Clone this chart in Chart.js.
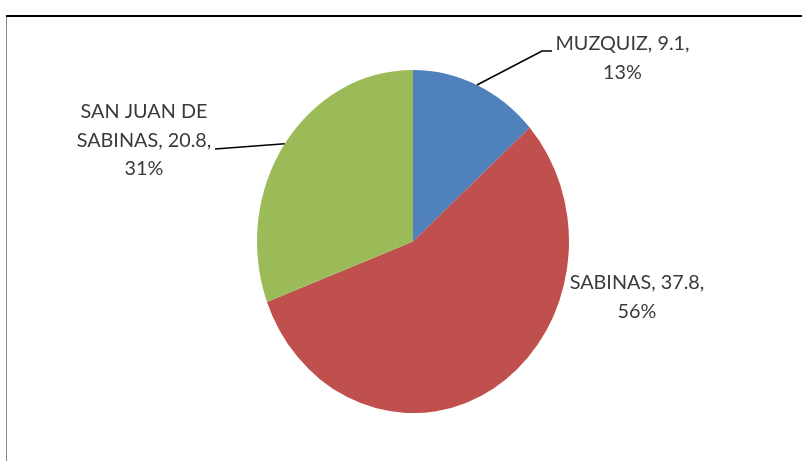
<!DOCTYPE html>
<html>
<head>
<meta charset="utf-8">
<script src="https://cdn.jsdelivr.net/npm/chart.js@4.4.0/dist/chart.umd.min.js"></script>
<style>
html,body{margin:0;padding:0;background:#fff;}
#wrap{position:relative;width:802px;height:461px;}
</style>
</head>
<body>
<div id="wrap"><canvas id="c" width="802" height="461"></canvas></div>
<script>
const categories = ["MUZQUIZ", "SABINAS", "SAN JUAN DE SABINAS"];
const values = [9.1, 37.8, 20.8];
const percentLabels = ["13%", "56%", "31%"];
const colors = ["#4F81BD", "#C0504D", "#9BBB59"];

const Y_STRETCH = 1.1;
const TEXT_X_SCALE = 1.1;

// label layout (screen positions of text blocks and leader elbows)
const labelLayout = [
  {lines: ["MUZQUIZ, " + values[0] + ",", percentLabels[0]], cx: 622.5, base: 50, leader: [[552, 51], [542, 51]]},
  {lines: ["SABINAS, " + values[1] + ",", percentLabels[1]], cx: 637, base: 289, leader: null},
  {lines: ["SAN JUAN DE", "SABINAS, " + values[2] + ",", percentLabels[2]], cx: 144, base: 118, leader: [[215, 149]]}
];

const framePlugin = {
  id: 'frame',
  beforeDraw(chart) {
    const ctx = chart.ctx;
    ctx.save();
    ctx.fillStyle = '#fff';
    ctx.fillRect(0, 0, chart.width, chart.height);
    ctx.fillStyle = '#000';
    ctx.fillRect(6, 15, chart.width - 6, 2);
    ctx.fillStyle = '#8a8a8a';
    ctx.fillRect(6, 17, 1, chart.height - 17);
    ctx.restore();
  }
};

const stretchPlugin = {
  id: 'stretch',
  beforeDatasetsDraw(chart) {
    const meta = chart.getDatasetMeta(0);
    const a = meta.data[0];
    const ctx = chart.ctx;
    ctx.save();
    ctx.translate(a.x, a.y);
    ctx.scale(1, Y_STRETCH);
    ctx.translate(-a.x, -a.y);
  },
  afterDatasetsDraw(chart) {
    chart.ctx.restore();
  }
};

const labelPlugin = {
  id: 'pieLabels',
  afterDraw(chart) {
    const ctx = chart.ctx;
    const meta = chart.getDatasetMeta(0);
    ctx.save();
    meta.data.forEach((arc, i) => {
      const L = labelLayout[i];
      const mid = (arc.startAngle + arc.endAngle) / 2;
      const px = arc.x + Math.cos(mid) * arc.outerRadius;
      const py = arc.y + Math.sin(mid) * arc.outerRadius * Y_STRETCH;
      if (L.leader) {
        ctx.beginPath();
        ctx.strokeStyle = '#000';
        ctx.lineWidth = 1.6;
        ctx.moveTo(L.leader[0][0], L.leader[0][1]);
        for (let k = 1; k < L.leader.length; k++) ctx.lineTo(L.leader[k][0], L.leader[k][1]);
        ctx.lineTo(px, py);
        ctx.stroke();
      }
      ctx.fillStyle = '#3a3a3a';
      ctx.textAlign = 'center';
      ctx.textBaseline = 'alphabetic';
      ctx.font = '18px Lato';
      L.lines.forEach((t, j) => {
        ctx.save();
        ctx.translate(L.cx, L.base + j * 28.5);
        ctx.scale(TEXT_X_SCALE, Y_STRETCH);
        ctx.fillText(t, 0, 0);
        ctx.restore();
      });
    });
    ctx.restore();
  }
};

new Chart(document.getElementById('c'), {
  type: 'pie',
  data: {
    labels: categories,
    datasets: [{
      data: values,
      backgroundColor: colors,
      borderWidth: 0,
      clip: false
    }]
  },
  options: {
    responsive: false,
    animation: false,
    layout: {padding: {left: 257, right: 233, top: 85.5, bottom: 63.5}},
    plugins: {legend: {display: false}, tooltip: {enabled: false}}
  },
  plugins: [framePlugin, stretchPlugin, labelPlugin]
});
</script>
</body>
</html>
